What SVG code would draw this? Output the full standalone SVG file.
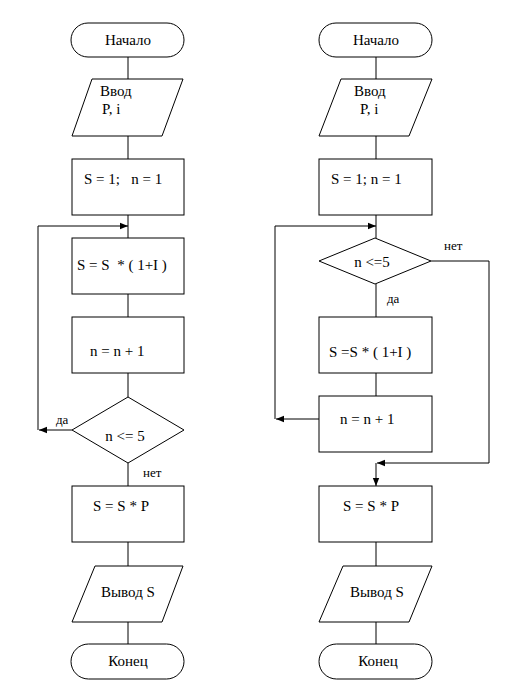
<svg xmlns="http://www.w3.org/2000/svg" width="523" height="695" viewBox="0 0 523 695" font-family="Liberation Serif, DejaVu Serif, serif">
<defs>
<marker id="ah" viewBox="0 0 10 10" refX="10" refY="5" markerWidth="8" markerHeight="8" markerUnits="userSpaceOnUse" orient="auto">
<path d="M0,1 L10,5 L0,9 z" fill="#000"/>
</marker>
<style>
.s{fill:#fff;stroke:#000;stroke-width:1}
.t{font-size:15px;fill:#000}
.l{font-size:13px;fill:#000}
.c{fill:none;stroke:#000;stroke-width:1}
</style>
</defs>
<rect width="523" height="695" fill="#fff"/>
<g id="connectors">
<path class="c" d="M128,57 V79 M128,136 V159 M128,215 V238 M128,294 V317 M128,373 V397 M128,463 V486 M128,542 V566 M128,622 V644"/>
<path class="c" d="M72,430 H39" marker-end="url(#ah)"/>
<path class="c" d="M38,430 V226 H128" marker-end="url(#ah)"/>
<path class="c" d="M376,57 V79 M376,136 V159 M376,215 V238 M376,284 V317 M376,373 V396 M376,542 V566 M376,622 V644"/>
<path class="c" d="M319,419 H276" marker-end="url(#ah)"/>
<path class="c" d="M275,419 V226 H376" marker-end="url(#ah)"/>
<path class="c" d="M431,261 H489 V463 H377" marker-end="url(#ah)"/>
<path class="c" d="M376,463 V486" marker-end="url(#ah)"/>
<text class="l" x="56" y="424" font-family="Liberation Serif">да</text>
<text class="l" x="143" y="477" font-family="Liberation Serif">нет</text>
<text class="l" x="444" y="250" font-family="Liberation Serif">нет</text>
<text class="l" x="387" y="303" font-family="Liberation Serif">да</text>
</g>
<g id="start1" font-family="Liberation Serif"><rect class="s" x="71" y="23" width="113" height="34" rx="17"/><text class="t" x="128" y="45" text-anchor="middle">Начало</text></g>
<g id="input1" font-family="Liberation Serif"><polygon class="s" points="92,79 183,79 162,136 72,136"/><text class="t" x="100" y="96">Ввод</text><text class="t" x="102" y="114">P, i</text></g>
<g id="init1" font-family="Liberation Serif"><rect class="s" x="72" y="159" width="112" height="56"/><text class="t" x="84" y="184" xml:space="preserve">S = 1;   n = 1</text></g>
<g id="calc1" font-family="Liberation Serif"><rect class="s" x="72" y="238" width="112" height="56"/><text class="t" x="77" y="270" xml:space="preserve">S = S  * ( 1+I )</text></g>
<g id="inc1" font-family="Liberation Serif"><rect class="s" x="72" y="317" width="112" height="56"/><text class="t" x="90" y="356">n = n + 1</text></g>
<g id="cond1" font-family="Liberation Serif"><polygon class="s" points="128,397 184,430 128,463 72,430"/><text class="t" x="125" y="441" text-anchor="middle">n &lt;= 5</text></g>
<g id="mult1" font-family="Liberation Serif"><rect class="s" x="72" y="486" width="112" height="56"/><text class="t" x="93" y="511">S = S * P</text></g>
<g id="output1" font-family="Liberation Serif"><polygon class="s" points="95,566 183,566 162,622 72,622"/><text class="t" x="101" y="597">Вывод S</text></g>
<g id="end1" font-family="Liberation Serif"><rect class="s" x="71" y="644" width="113" height="35" rx="17.5"/><text class="t" x="128" y="666" text-anchor="middle">Конец</text></g>
<g id="start2" font-family="Liberation Serif"><rect class="s" x="319" y="23" width="113" height="34" rx="17"/><text class="t" x="376" y="45" text-anchor="middle">Начало</text></g>
<g id="input2" font-family="Liberation Serif"><polygon class="s" points="341,79 432,79 409,136 319,136"/><text class="t" x="354" y="96">Ввод</text><text class="t" x="360" y="114">P, i</text></g>
<g id="init2" font-family="Liberation Serif"><rect class="s" x="319" y="159" width="113" height="56"/><text class="t" x="331" y="184">S = 1; n = 1</text></g>
<g id="cond2" font-family="Liberation Serif"><polygon class="s" points="375,238 431,261 375,284 319,261"/><text class="t" x="372" y="267" text-anchor="middle">n &lt;=5</text></g>
<g id="calc2" font-family="Liberation Serif"><rect class="s" x="319" y="317" width="113" height="56"/><text class="t" x="329" y="357">S =S * ( 1+I )</text></g>
<g id="inc2" font-family="Liberation Serif"><rect class="s" x="319" y="396" width="113" height="56"/><text class="t" x="340" y="424">n = n + 1</text></g>
<g id="mult2" font-family="Liberation Serif"><rect class="s" x="319" y="486" width="113" height="56"/><text class="t" x="343" y="511">S = S * P</text></g>
<g id="output2" font-family="Liberation Serif"><polygon class="s" points="343,566 432,566 409,622 319,622"/><text class="t" x="350" y="597">Вывод S</text></g>
<g id="end2" font-family="Liberation Serif"><rect class="s" x="319" y="644" width="113" height="35" rx="17.5"/><text class="t" x="378" y="666" text-anchor="middle">Конец</text></g>
</svg>
